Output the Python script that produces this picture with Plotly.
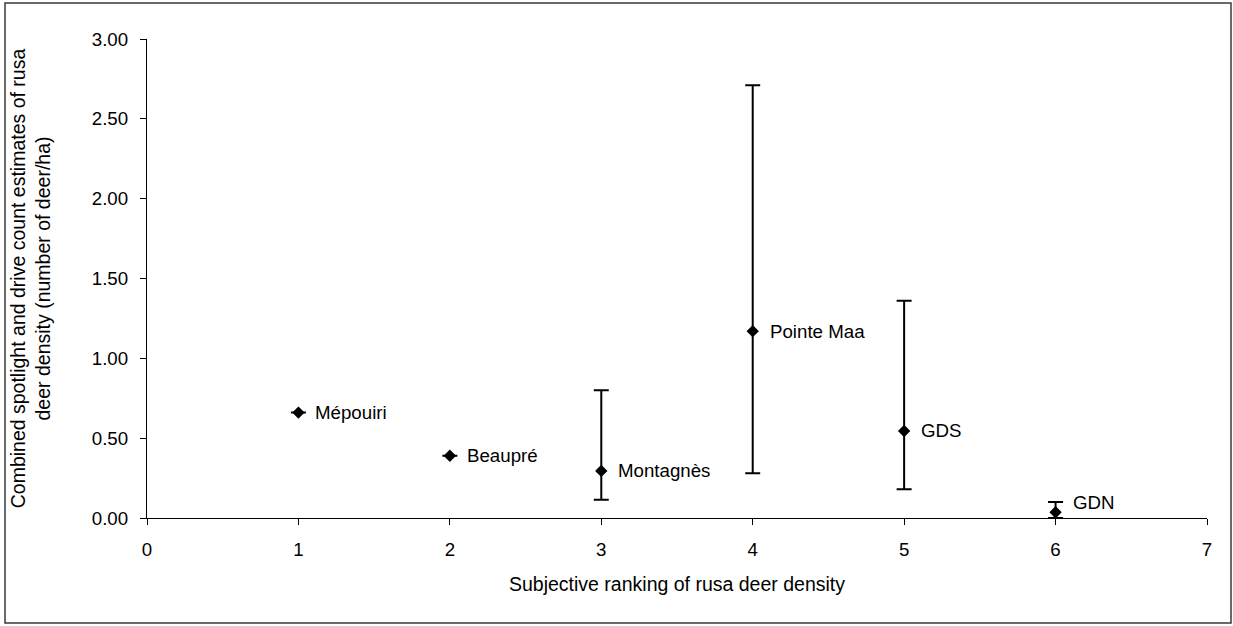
import plotly.graph_objects as go

sites = ["Mépouiri", "Beaupré", "Montagnès", "Pointe Maa", "GDS", "GDN"]
rank = [1, 2, 3, 4, 5, 6]
density = [0.66, 0.39, 0.295, 1.17, 0.545, 0.036]
upper = [None, None, 0.80, 2.71, 1.36, 0.10]
lower = [None, None, 0.115, 0.28, 0.18, 0.00]
label_yshift = [0, 0, 0, 0, 0, 10]

plus = [(u - d) if u is not None else 0 for u, d in zip(upper, density)]
minus = [(d - l) if l is not None else 0 for l, d in zip(lower, density)]

FONT = "Liberation Sans, Arial, sans-serif"
FS = 18.7
FT = 19.5

fig = go.Figure()
fig.add_trace(go.Scatter(
    x=rank, y=density,
    mode="markers",
    marker=dict(symbol="diamond", size=9.5, color="black"),
    error_y=dict(type="data", symmetric=False, array=plus, arrayminus=minus,
                 color="black", thickness=2, width=7.5),
    cliponaxis=False,
    showlegend=False,
    hoverinfo="skip",
))

annotations = []
for xv, yv, name, ys in zip(rank, density, sites, label_yshift):
    annotations.append(dict(x=xv, y=yv, xref="x", yref="y", text=name, showarrow=False,
                            xanchor="left", yanchor="middle", xshift=15, yshift=ys,
                            font=dict(family=FONT, size=FS, color="black")))

fig.update_layout(
    width=1233, height=626,
    margin=dict(l=147, r=26, t=39, b=108),
    paper_bgcolor="white", plot_bgcolor="white",
    font=dict(family=FONT, size=FS, color="black"),
    annotations=annotations,
    xaxis=dict(range=[0, 7], dtick=1, tick0=0, showline=True, linecolor="black", linewidth=1.3,
               ticks="outside", ticklen=6, tickcolor="black", showgrid=False, zeroline=False,
               ticklabelstandoff=8,
               title=dict(text="Subjective ranking of rusa deer density", standoff=18,
                          font=dict(size=FT)),
               tickfont=dict(size=FS)),
    yaxis=dict(range=[0, 3], dtick=0.5, tick0=0, tickformat=".2f", showline=True, linecolor="black",
               linewidth=1.3, ticks="outside", ticklen=6, tickcolor="black", showgrid=False, zeroline=False,
               ticklabelstandoff=8,
               title=dict(text="Combined spotlight and drive count estimates of rusa<br>deer density (number of deer/ha)",
                          standoff=35, font=dict(size=FT)),
               tickfont=dict(size=FS)),
    shapes=[dict(type="rect", xref="paper", yref="paper",
                 x0=(5 - 147) / 1060, x1=(1231 - 147) / 1060,
                 y0=(518 - 623) / 479, y1=(518 - 3) / 479,
                 line=dict(color="#3a3a3a", width=1.5), fillcolor="rgba(0,0,0,0)", layer="below")],
)

fig.write_html("out.html", config={"displayModeBar": False},
               post_script="document.body.style.margin='0';document.body.style.overflow='hidden';")
